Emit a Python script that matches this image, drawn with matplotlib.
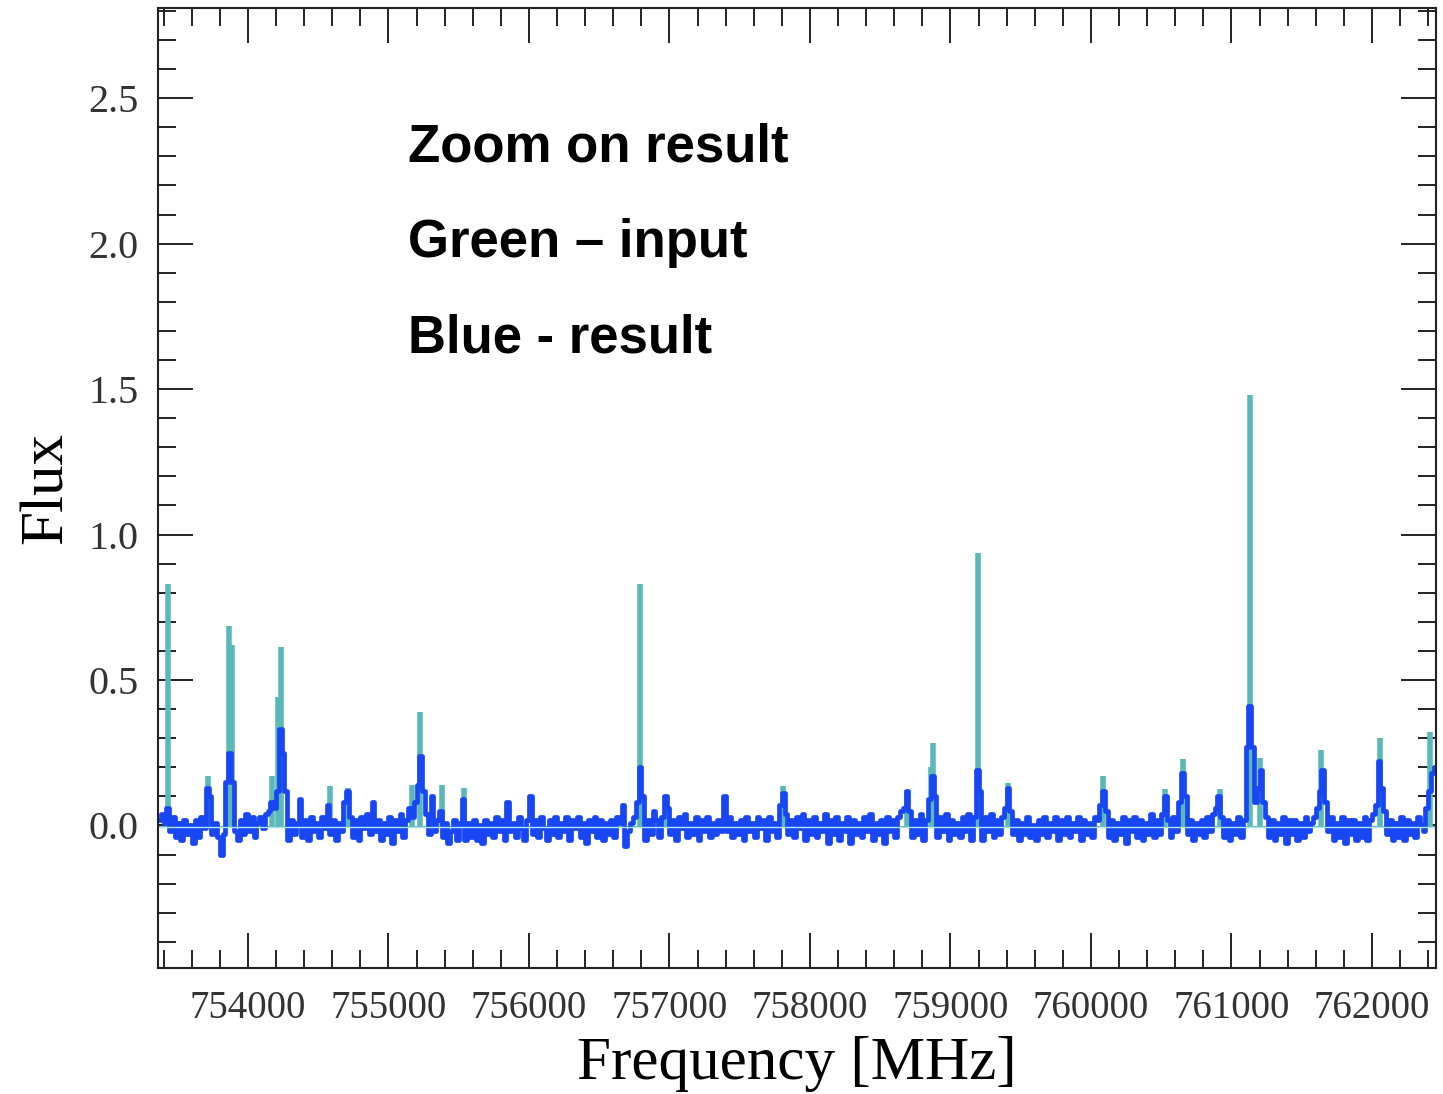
"""Zoom on deconvolution result: input spectrum (green) vs result (blue)."""

import numpy as np
import matplotlib.pyplot as plt
from matplotlib.ticker import MultipleLocator

# result spectrum (blue): 20 MHz channels starting at 753370 MHz,
# flux in units of 0.01
freq_start = 753370
chan_width = 20
result_flux_cents = [
    2, 4, 1, 6, -2, 3, -4, 1, -5, 2, -3, 0, -6, 2, -4, 3, -1, 13, 10, -3,
    1, -4, -10, -3, 15, 25, 15, -2, -5, 2, -3, 4, -2, 3, -4, 1, 3, -1, 4, 5,
    8, 6, 12, 33, 25, 12, -5, 2, -3, 1, 9, -4, 2, -5, 3, -2, 1, -4, 3, -1,
    7, -3, 2, -5, 1, -2, 8, 12, 3, -4, 2, -5, 3, -1, 4, -3, 8, -2, 2, -5,
    1, -3, 3, -6, 2, -2, 4, -4, 2, 6, 3, 8, 14, 24, 12, 4, -3, 10, -2, 2,
    5, -4, 1, -6, -2, 2, -5, 1, 9, -5, 1, -4, 2, -5, 0, -6, 2, -3, 1, -4,
    3, -2, 2, -5, 8, -2, 1, -4, 3, -1, -5, 2, 10, -3, 2, -4, 3, -1, -5, 2,
    -3, 3, -4, 1, -2, 3, -5, 2, -1, 3, -4, 1, -6, 2, -2, 3, -4, 2, -5, 1,
    -3, 2, -4, 3, 1, 7, -7, -2, 1, 3, 8, 20, 10, -5, 2, -3, 5, 2, -4, 3,
    10, 6, -3, 2, -5, 3, -1, 4, -4, 1, -3, 3, -5, 2, -2, 3, -4, 1, -3, 2,
    -2, 10, -2, 3, -4, 1, -3, 2, -5, 3, -2, 1, -4, 3, -1, 2, -5, 3, -2, 1,
    -4, 7, 11, 4, -3, 2, -4, 3, -1, 4, -5, 2, -3, 3, -4, 1, -2, 4, -6, 2,
    -3, 3, -5, 1, -2, 3, -6, 2, -3, 1, -4, 3, -2, 4, -5, 1, -3, 2, -6, 3,
    -2, 2, -4, 3, 5, 6, 12, 5, -4, 2, -3, 4, -5, 2, 9, 17, 10, -4, 3, -2,
    4, -5, 2, -3, 1, -4, 3, -2, 4, -5, 3, 19, 12, -5, 3, -2, 4, -4, 2, -3,
    3, 6, 13, 5, -3, 2, -5, 1, -3, 3, -4, 0, -5, 2, -3, 3, -4, 1, -2, 3,
    -5, 2, -3, 3, -4, 1, -2, 3, -5, 2, -3, 1, -4, 3, 2, 7, 12, 5, -4, 2,
    -5, 1, -3, 3, -6, 2, -2, 3, -4, 2, -5, 1, -3, 4, -4, 2, -3, 4, 10, 2,
    -4, 3, -2, 8, 18, 10, -3, 2, -5, 1, -3, 2, -4, 3, -2, 4, 6, 10, 3, -4,
    2, -5, 1, -3, 3, -4, 2, 27, 41, 27, 8, 13, 19, 8, 3, -4, 2, -5, 1, -3,
    3, -6, 2, -3, 2, -5, 1, -4, 3, -2, 1, 3, 6, 12, 19, 8, -2, 3, -5, 1,
    -4, 3, -6, 2, -3, 2, -5, 1, -4, 3, -5, 2, 4, 7, 22, 13, 5, -3, 2, -5,
    1, -4, 3, -5, 2, -3, 1, -4, 3, 0, -2, 6, 12, 18, 20,
]
result_freq = freq_start + chan_width * np.arange(len(result_flux_cents))
result_flux = np.array(result_flux_cents) / 100.0

# input spectrum (green): flat baseline plus narrow lines
input_baseline = -0.005
input_line_freq = [753430, 753715, 753865, 753890, 754170, 754215, 754235,
                   754584, 754710, 755165, 755224, 755379, 755537, 756790,
                   756973, 757810, 758688, 758862, 758875, 759198, 759411,
                   760088, 760527, 760657, 760918, 761132, 761203, 761640,
                   762057, 762413]
input_line_flux = [0.83, 0.17, 0.685, 0.62, 0.17, 0.44, 0.615,
                   0.135, 0.13, 0.14, 0.39, 0.14, 0.13, 0.83,
                   0.10, 0.137, 0.121, 0.20, 0.284, 0.935, 0.147,
                   0.17, 0.124, 0.227, 0.124, 1.48, 0.233, 0.26,
                   0.30, 0.32]

notes = ["Zoom on result", "Green \u2013 input", "Blue - result"]

teal = '#5bb8b8'
blue = '#1746f2'
light = '#aee6f0'

fig = plt.figure(figsize=(14.43, 10.94), dpi=100)
ax = fig.add_axes([0.1095, 0.1152, 0.8856, 0.8775])

ax.vlines(input_line_freq, input_baseline, input_line_flux, color=teal, lw=4.0)
ax.axhline(input_baseline, color=teal, lw=1.5)
ax.plot(result_freq, result_flux, drawstyle='steps-mid', color=blue, lw=3.4)
ax.axhline(input_baseline, color=light, lw=1.0)

ax.set_xlim(753360, 762455)
ax.set_ylim(-0.49, 2.81)

ax.xaxis.set_major_locator(MultipleLocator(1000))
ax.xaxis.set_minor_locator(MultipleLocator(200))
ax.yaxis.set_major_locator(MultipleLocator(0.5))
ax.yaxis.set_minor_locator(MultipleLocator(0.1))
ax.yaxis.set_major_formatter(plt.FormatStrFormatter('%.1f'))

ax.tick_params(which='both', direction='in', top=True, right=True,
               width=1.4, color='#222222')
ax.tick_params(which='major', length=25)
ax.tick_params(which='minor', length=13)
ax.tick_params(axis='x', which='major', pad=16, labelsize=28, labelcolor='#333333')
ax.tick_params(axis='y', which='major', pad=14, labelsize=29, labelcolor='#333333')
for lab in ax.get_xticklabels() + ax.get_yticklabels():
    lab.set_family('Liberation Serif')
for sp in ax.spines.values():
    sp.set_linewidth(1.5)
    sp.set_color('#222222')

ax.set_xlabel('Frequency [MHz]', family='Liberation Serif', fontsize=44, labelpad=6)
ax.set_ylabel('Flux', family='Liberation Serif', fontsize=44, labelpad=10)

for i, s in enumerate(notes):
    fig.text(408 / 1443, 1 - (162 + 95 * i) / 1094, s, family='Liberation Sans',
             fontsize=38, fontweight='bold', va='baseline', ha='left')

fig.savefig('out.png', dpi=100)
